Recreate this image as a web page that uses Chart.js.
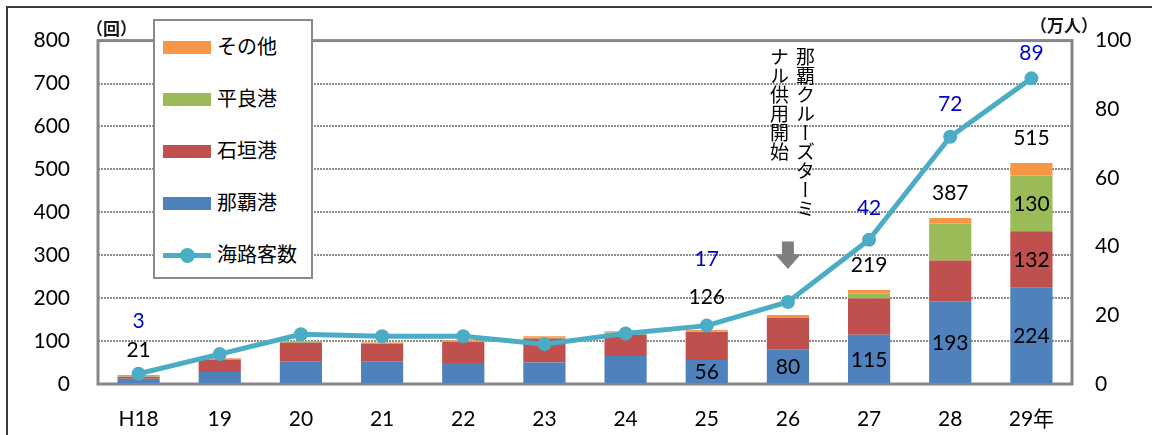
<!DOCTYPE html>
<html>
<head>
<meta charset="utf-8">
<script src="https://cdn.jsdelivr.net/npm/chart.js@4/dist/chart.umd.min.js"></script>
<style>
  html, body { margin: 0; padding: 0; background: #fff; overflow: hidden; }
  #wrap { position: relative; width: 1152px; height: 435px; }
  #frame { position: absolute; left: 6px; top: 6px; width: 1170px; height: 450px; border: 2px solid #3a3a3a; }
  #box { position: absolute; left: 0; top: 0; width: 1152px; height: 435px; }
  .unit { position: absolute; font: bold 17px "Noto Sans CJK JP", sans-serif; color: #1a1a1a; line-height: 20px; }
  #legend { position: absolute; left: 153px; top: 19px; width: 156px; height: 256px;
    background: #fff; border: 2px solid #8a8a8a; font: 20px "Noto Sans CJK JP", sans-serif; }
  .row { position: absolute; left: 0; height: 30px; width: 150px; }
  .sw { position: absolute; left: 8px; top: 9px; width: 48px; height: 13px; }
  .row span.t { position: absolute; left: 62px; top: -1px; line-height: 30px; color: #000; }
  .ln { position: absolute; left: 8px; top: 13px; width: 48px; height: 5px; background: #4bacc6; }
  .dot { position: absolute; left: 25px; top: 8px; width: 15px; height: 15px; border-radius: 50%; background: #4bacc6; }
  #note { position: absolute; left: 766px; top: 47px; writing-mode: vertical-rl;
    font: 19px "Noto Sans CJK JP", sans-serif; line-height: 26px; color: #000; }
</style>
</head>
<body>
<div id="wrap">
  <div id="frame"></div>
  <div id="box"><canvas id="chart"></canvas></div>
  <div class="unit" style="left:86px; top:18px;">（回）</div>
  <div class="unit" style="left:1030px; top:15px;">（万人）</div>
  <div id="legend"></div>
  <div id="note">那覇クルーズターミ<br>ナル供用開始</div>
</div>
<script>
// 年度
const years = ['H18', '19', '20', '21', '22', '23', '24', '25', '26', '27', '28', '29年'];

// 寄港回数（回）
const naha     = [12, 28, 53, 53, 49, 50, 65, 56, 80, 115, 193, 224];
const ishigaki = [5, 29, 43, 41, 49, 56, 50, 65, 74, 84, 95, 132];
const hirara   = [1, 1, 3, 2, 1, 2, 5, 1, 2, 12, 86, 130];
const other    = [3, 2, 1, 1, 3, 3, 3, 4, 5, 8, 13, 29];

// 海路客数（万人）
const passengers = [3, 8.7, 14.5, 13.9, 13.9, 11.6, 14.7, 17, 23.9, 42, 72, 89];

// 軸の目盛
const leftTicks = [0, 800, 100];
const rightTicks = [0, 100, 20];

// ラベルを表示する年
const labeledIdx = [0, 7, 9, 10, 11];

const colors = {
  naha: '#4f81bd',
  ishigaki: '#c0504d',
  hirara: '#9bbb59',
  other: '#f79646',
  line: '#4bacc6'
};

// 凡例
const legendItems = [
  ['その他', colors.other],
  ['平良港', colors.hirara],
  ['石垣港', colors.ishigaki],
  ['那覇港', colors.naha],
  ['海路客数', null]
];
const legendEl = document.getElementById('legend');
legendItems.forEach(([name, c], i) => {
  const row = document.createElement('div');
  row.className = 'row';
  row.style.top = (11 + i * 52) + 'px';
  row.innerHTML = c
    ? `<div class="sw" style="background:${c}"></div><span class="t">${name}</span>`
    : `<div class="ln"></div><div class="dot"></div><span class="t">${name}</span>`;
  legendEl.appendChild(row);
});

const numFont = 'Lato, "Noto Sans CJK JP", sans-serif';

// ラベル・枠・矢印
const extras = {
  id: 'extras',
  beforeDatasetsDraw(chart) {
    const { ctx, chartArea: a } = chart;
    ctx.save();
    ctx.strokeStyle = '#878787';
    ctx.lineWidth = 3;
    ctx.strokeRect(a.left, a.top, a.right - a.left, a.bottom - a.top);
    ctx.restore();
  },
  afterDatasetsDraw(chart) {
    const { ctx } = chart;
    const xs = chart.scales.x, ys = chart.scales.y, y1 = chart.scales.y1;
    ctx.save();
    ctx.font = '21px ' + numFont;
    ctx.textAlign = 'center';
    ctx.textBaseline = 'middle';

    // バー内ラベル
    const segLabel = (dsIdx, i) => {
      const el = chart.getDatasetMeta(dsIdx).data[i];
      ctx.fillStyle = '#000';
      ctx.fillText(chart.data.datasets[dsIdx].data[i], el.x, (el.y + el.base) / 2 + 1);
    };
    [7, 8, 9, 10, 11].forEach(i => segLabel(0, i));
    segLabel(1, 11);
    segLabel(2, 11);

    // 合計と客数
    const totalLift = { 7: 33 };
    const lineLift = { 0: 52, 7: 66, 9: 32, 10: 33, 11: 25 };
    labeledIdx.forEach(i => {
      const total = naha[i] + ishigaki[i] + hirara[i] + other[i];
      const x = xs.getPixelForValue(i);
      ctx.fillStyle = '#000';
      ctx.fillText(total, x, ys.getPixelForValue(total) - (totalLift[i] || 25));
      ctx.fillStyle = '#0000cc';
      ctx.fillText(Math.round(passengers[i]), x, y1.getPixelForValue(passengers[i]) - lineLift[i]);
    });

    // 矢印
    const ax = xs.getPixelForValue(8);
    const top = ys.getPixelForValue(332), mid = ys.getPixelForValue(302), tip = ys.getPixelForValue(268);
    ctx.fillStyle = '#7f7f7f';
    ctx.beginPath();
    ctx.moveTo(ax - 6, top);
    ctx.lineTo(ax + 6, top);
    ctx.lineTo(ax + 6, mid);
    ctx.lineTo(ax + 13, mid);
    ctx.lineTo(ax, tip);
    ctx.lineTo(ax - 13, mid);
    ctx.lineTo(ax - 6, mid);
    ctx.closePath();
    ctx.fill();
    ctx.restore();
  }
};

const barOpts = { stack: 's', yAxisID: 'y', order: 2, barPercentage: 0.52, categoryPercentage: 1, borderWidth: 0 };

new Chart(document.getElementById('chart'), {
  data: {
    labels: years,
    datasets: [
      { type: 'bar', label: '那覇港', data: naha, backgroundColor: colors.naha, ...barOpts },
      { type: 'bar', label: '石垣港', data: ishigaki, backgroundColor: colors.ishigaki, ...barOpts },
      { type: 'bar', label: '平良港', data: hirara, backgroundColor: colors.hirara, ...barOpts },
      { type: 'bar', label: 'その他', data: other, backgroundColor: colors.other, ...barOpts },
      {
        type: 'line', label: '海路客数', data: passengers, yAxisID: 'y1', order: 1,
        borderColor: colors.line, backgroundColor: colors.line, borderWidth: 5,
        pointRadius: 7, pointBackgroundColor: colors.line, pointBorderWidth: 0, tension: 0
      }
    ]
  },
  options: {
    responsive: true,
    maintainAspectRatio: false,
    animation: false,
    layout: { padding: { top: 39, left: 0, right: 0, bottom: 0 } },
    plugins: { legend: { display: false }, tooltip: { enabled: false } },
    scales: {
      x: {
        stacked: true,
        grid: { display: false },
        border: { display: false },
        ticks: { color: '#000', font: { size: 21, family: numFont }, padding: 15 },
        afterFit: s => { s.height = 51; }
      },
      y: {
        stacked: true,
        position: 'left',
        min: leftTicks[0], max: leftTicks[1],
        ticks: { stepSize: leftTicks[2], color: '#000', font: { size: 21, family: numFont }, padding: 28 },
        grid: { color: '#8c8c8c', lineWidth: 2, drawTicks: false },
        border: { display: false, dash: [2, 1] },
        afterFit: s => { s.width = 98; }
      },
      y1: {
        position: 'right',
        min: rightTicks[0], max: rightTicks[1],
        ticks: { stepSize: rightTicks[2], color: '#000', font: { size: 21, family: numFont }, padding: 23 },
        grid: { drawOnChartArea: false, drawTicks: false },
        border: { display: false },
        afterFit: s => { s.width = 80; }
      }
    }
  },
  plugins: [extras]
});
</script>
</body>
</html>
